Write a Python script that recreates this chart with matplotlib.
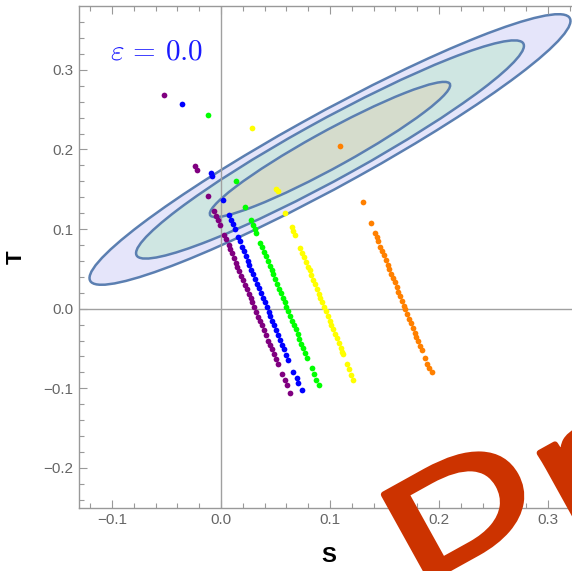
import numpy as np
import matplotlib
matplotlib.use('Agg')
import matplotlib.pyplot as plt
import matplotlib.transforms as mtransforms
from matplotlib.patches import Ellipse, PathPatch
from matplotlib.textpath import TextPath
from matplotlib.font_manager import FontProperties

plt.rcParams['font.family'] = ['Liberation Sans', 'DejaVu Sans']
plt.rcParams['mathtext.fontset'] = 'cm'

# S-T fit: central value, errors, correlation
fit_center = (0.10, 0.20)
sigma_S = 0.0727
sigma_T = 0.0560
rho_ST = 0.95
# chi^2 thresholds for 2 dof: 99%, 95%, 68% CL
cl_chi2 = [9.21, 5.99, 2.30]
cl_fill = ['#e5e5fa', '#cfe6e2', '#d5dccc']

purple_S = [-0.0520, -0.0239, -0.0223, -0.0116, -0.0062, -0.0044, -0.0026, -0.0007, 0.0032, 0.0047,
            0.0069, 0.0084, 0.0099, 0.0117, 0.0136, 0.0151, 0.0169, 0.0187, 0.0202, 0.0221,
            0.0236, 0.0254, 0.0272, 0.0287, 0.0306, 0.0324, 0.0342, 0.0360, 0.0375, 0.0394,
            0.0412, 0.0433, 0.0451, 0.0467, 0.0485, 0.0503, 0.0521, 0.0560, 0.0587, 0.0606, 0.0633]
purple_T = [0.269, 0.179, 0.174, 0.142, 0.123, 0.117, 0.111, 0.105, 0.092, 0.087,
            0.080, 0.075, 0.070, 0.064, 0.058, 0.053, 0.047, 0.041, 0.036, 0.030,
            0.025, 0.019, 0.013, 0.008, 0.002, -0.004, -0.010, -0.016, -0.021, -0.027,
            -0.033, -0.040, -0.046, -0.051, -0.057, -0.063, -0.069, -0.082, -0.090, -0.096, -0.106]

blue_S = [-0.0360, -0.0092, -0.0086, 0.0015, 0.0072, 0.0090, 0.0108, 0.0126, 0.0156, 0.0171,
          0.0192, 0.0210, 0.0228, 0.0246, 0.0261, 0.0278, 0.0296, 0.0314, 0.0332, 0.0347,
          0.0365, 0.0383, 0.0401, 0.0419, 0.0437, 0.0452, 0.0470, 0.0488, 0.0506, 0.0524,
          0.0542, 0.0560, 0.0578, 0.0599, 0.0616, 0.0664, 0.0694, 0.0710, 0.0740]
blue_T = [0.257, 0.171, 0.167, 0.136, 0.118, 0.112, 0.106, 0.100, 0.090, 0.085,
          0.078, 0.072, 0.066, 0.060, 0.055, 0.049, 0.043, 0.037, 0.031, 0.026,
          0.020, 0.014, 0.008, 0.002, -0.004, -0.009, -0.015, -0.021, -0.027, -0.033,
          -0.039, -0.045, -0.051, -0.058, -0.064, -0.079, -0.087, -0.093, -0.102]

green_S = [-0.0116, 0.0134, 0.0220, 0.0276, 0.0294, 0.0309, 0.0324, 0.0359, 0.0377, 0.0395,
           0.0410, 0.0428, 0.0446, 0.0464, 0.0478, 0.0496, 0.0514, 0.0532, 0.0547, 0.0565,
           0.0583, 0.0600, 0.0615, 0.0633, 0.0651, 0.0669, 0.0684, 0.0702, 0.0719, 0.0737,
           0.0755, 0.0773, 0.0791, 0.0832, 0.0853, 0.0872, 0.0899]
green_T = [0.243, 0.160, 0.128, 0.111, 0.105, 0.100, 0.095, 0.083, 0.077, 0.071,
           0.066, 0.060, 0.054, 0.048, 0.043, 0.037, 0.031, 0.025, 0.020, 0.014,
           0.008, 0.002, -0.003, -0.009, -0.015, -0.021, -0.026, -0.032, -0.038, -0.044,
           -0.050, -0.056, -0.062, -0.075, -0.082, -0.089, -0.096]

yellow_S = [0.0281, 0.0505, 0.0520, 0.0587, 0.0649, 0.0664, 0.0682, 0.0729, 0.0747, 0.0761,
            0.0779, 0.0797, 0.0812, 0.0829, 0.0847, 0.0862, 0.0880, 0.0897, 0.0912, 0.0930,
            0.0948, 0.0963, 0.0980, 0.0998, 0.1013, 0.1031, 0.1048, 0.1063, 0.1081, 0.1099,
            0.1113, 0.1122, 0.1153, 0.1177, 0.1190, 0.1208]
yellow_T = [0.227, 0.150, 0.148, 0.120, 0.103, 0.098, 0.092, 0.076, 0.070, 0.065,
            0.059, 0.053, 0.048, 0.042, 0.036, 0.031, 0.025, 0.019, 0.014, 0.008,
            0.002, -0.003, -0.009, -0.015, -0.020, -0.026, -0.032, -0.037, -0.043, -0.049,
            -0.054, -0.057, -0.069, -0.076, -0.083, -0.090]

orange_S = [0.1090, 0.1300, 0.1376, 0.1412, 0.1427, 0.1441, 0.1462, 0.1479, 0.1494, 0.1511,
            0.1529, 0.1544, 0.1561, 0.1579, 0.1593, 0.1611, 0.1628, 0.1643, 0.1660, 0.1678,
            0.1692, 0.1710, 0.1727, 0.1742, 0.1760, 0.1777, 0.1792, 0.1809, 0.1827, 0.1841,
            0.1872, 0.1887, 0.1908, 0.1933]
orange_T = [0.205, 0.134, 0.108, 0.095, 0.090, 0.085, 0.078, 0.072, 0.067, 0.061,
            0.055, 0.050, 0.044, 0.038, 0.033, 0.027, 0.021, 0.016, 0.010, 0.004,
            -0.001, -0.007, -0.013, -0.018, -0.024, -0.030, -0.035, -0.041, -0.047, -0.052,
            -0.062, -0.069, -0.075, -0.080]

series = [(purple_S, purple_T, '#800080'),
          (blue_S, blue_T, '#0000ff'),
          (green_S, green_T, '#00ff00'),
          (yellow_S, yellow_T, '#ffff00'),
          (orange_S, orange_T, '#ff8000')]

xticks = [-0.1, 0.0, 0.1, 0.2, 0.3]
yticks = [-0.2, -0.1, 0.0, 0.1, 0.2, 0.3]

fig = plt.figure(figsize=(5.72, 5.71), dpi=100)
ax = fig.add_axes([79.3 / 572, 1 - 507.7 / 571, 501.4 / 572, 501.5 / 571])
ax.set_xlim(-0.13, 0.33)
ax.set_ylim(-0.25, 0.38)

# confidence ellipses from the covariance matrix
cov = np.array([[sigma_S**2, rho_ST * sigma_S * sigma_T],
                [rho_ST * sigma_S * sigma_T, sigma_T**2]])
vals, vecs = np.linalg.eigh(cov)
angle = np.degrees(np.arctan2(vecs[1, 1], vecs[0, 1]))
for chi2, fc in zip(cl_chi2, cl_fill):
    w = 2 * np.sqrt(chi2 * vals[1])
    h = 2 * np.sqrt(chi2 * vals[0])
    ax.add_patch(Ellipse(fit_center, w, h, angle=angle, facecolor=fc,
                         edgecolor='#5b7fb1', linewidth=1.8, zorder=1))

ax.axhline(0, color='#a0a0a0', lw=1.0, zorder=2)
ax.axvline(0, color='#a0a0a0', lw=1.0, zorder=2)

for s_vals, t_vals, c in series:
    ax.scatter(s_vals, t_vals, s=17, color=c, linewidths=0, zorder=5)

ax.text(-0.1018, 0.3225, r'$\varepsilon\,=\,0.0$', color='#1a1aff', fontsize=21,
        ha='left', va='center')

ax.set_xticks(xticks)
ax.set_xticklabels([f'{v:.1f}'.replace('-', '\u2212') for v in xticks])
ax.set_yticks(yticks)
ax.set_yticklabels([f'{v:.1f}'.replace('-', '\u2212') for v in yticks])
ax.set_xticks(np.arange(-0.12, 0.33, 0.02), minor=True)
ax.set_yticks(np.arange(-0.24, 0.38, 0.02), minor=True)
ax.tick_params(which='both', direction='in', top=True, right=True,
               color='#999999', labelcolor='#666666', labelsize=11, width=0.8)
ax.tick_params(which='major', length=6, pad=4)
ax.tick_params(which='minor', length=3.5)
for sp in ax.spines.values():
    sp.set_color('#999999')
    sp.set_linewidth(1.0)

fig.text(329 / 572, 1 - 557 / 571, 'S', fontsize=16, fontweight='bold',
         ha='center', va='center')
fig.text(16 / 572, 1 - 257 / 571, 'T', fontsize=16, fontweight='bold',
         ha='center', va='center', rotation=90)

# stretched, tilted "Draft" stamp, drawn in pixel coordinates;
# regular weight thickened with a same-colour outline
stamp_font = FontProperties(family='Liberation Sans', weight='normal')
for piece, origin in [('D', (415.6, -16.1)), ('raft', (563.4, 46.6))]:
    path = TextPath((0, 0), piece, size=140, prop=stamp_font)
    tr = mtransforms.Affine2D().scale(1.5, 1.0).rotate_deg(29).translate(*origin)
    fig.add_artist(PathPatch(path, transform=tr, facecolor='#cc3300',
                             edgecolor='#cc3300', linewidth=4.5, joinstyle='round',
                             zorder=10))

fig.savefig('out.png', dpi=100)
